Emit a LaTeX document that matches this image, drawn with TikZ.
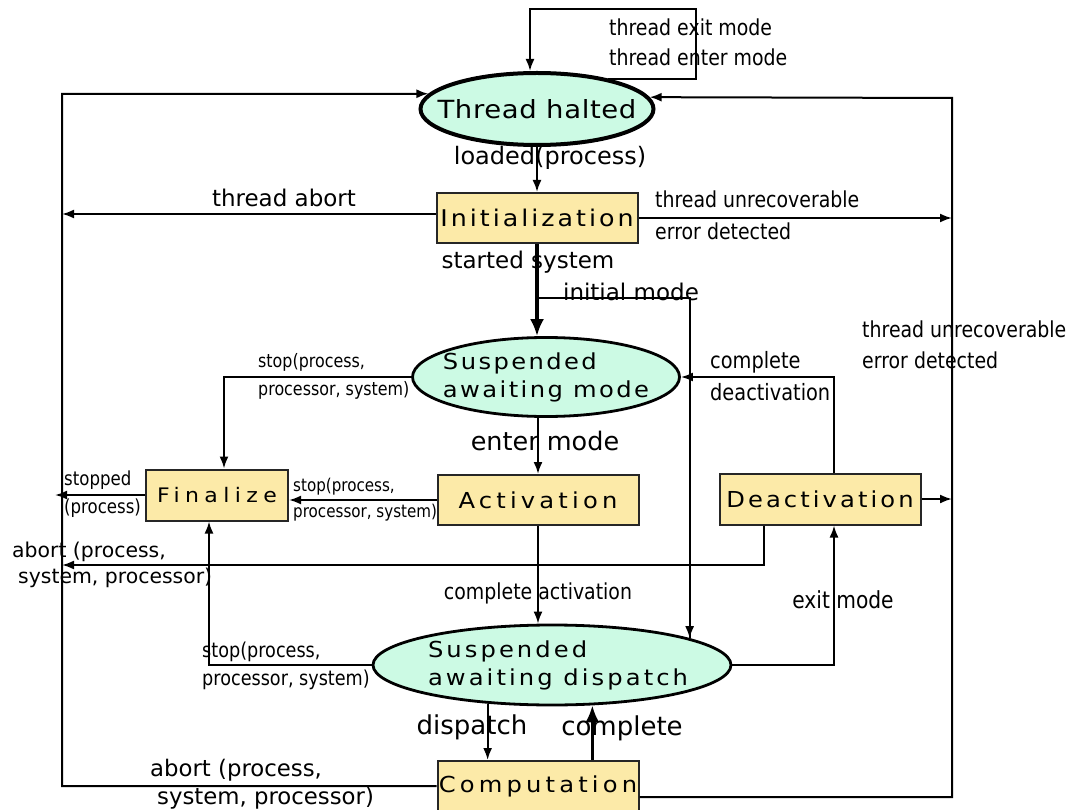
\documentclass[tikz,border=0pt]{standalone}
\usepackage{fontspec}
\usepackage{tikz}
\usetikzlibrary{shapes.geometric,arrows.meta}
\setmainfont{DejaVu Sans}
\newfontfamily\condfont[FakeStretch=0.86]{DejaVu Sans}
\newfontfamily\statefont[FakeStretch=1.1]{DejaVu Sans}
\newcommand\spaced[1]{\addfontfeature{LetterSpace=#1}}
\definecolor{mint}{RGB}{204,250,228}
\definecolor{sand}{RGB}{252,234,168}

\tikzset{
  stateoval/.style={ellipse, draw, line width=2.8pt, fill=mint, inner sep=0pt},
  statebox/.style={rectangle, draw=black!85, line width=2pt, fill=sand, inner sep=0pt,
    minimum width=201pt, minimum height=50pt, font=\statefont\fontsize{22}{26}\selectfont},
  statetext/.style={font=\statefont\fontsize{22}{28}\selectfont\spaced{#1}, align=left, inner sep=0pt},
  lbl/.style={font=\fontsize{23}{30}\selectfont, inner sep=0pt, align=left},
  cond/.style={font=\condfont\fontsize{22}{30}\selectfont, inner sep=0pt, align=left},
  flow/.style={line width=2pt, -{Latex[length=12pt,width=9pt]}},
  heavy/.style={line width=3.2pt, -{Latex[length=17pt,width=14pt]}},
}

\begin{document}
\begin{tikzpicture}[x=1pt,y=-1pt]
            \useasboundingbox (0,0) rectangle (1068,810);

            % states
            \node[stateoval, line width=4pt, minimum width=233pt, minimum height=72pt] (halt) at (537,109) {};
            \node[statetext=0, font=\statefont\fontsize{25}{28}\selectfont\spaced{2.5}] (haltlbl) at (halt) {Thread halted};
            \node[statebox, font=\statefont\fontsize{23}{26}\selectfont] (init) at (537,218) {\spaced{13}Initialization};
            \node[stateoval, minimum width=267pt, minimum height=79pt] (sam) at (546,377) {};
            \node[statetext=11] (samlbl) at (sam) {Suspended\\awaiting mode};
            \node[statebox, minimum width=142pt, minimum height=51pt, font=\statefont\fontsize{20}{24}\selectfont] (fin) at (217,495) {\spaced{27}Finalize};
            \node[statebox] (act) at (538,500) {\spaced{19}Activation};
            \node[statebox, minimum height=51pt] (deact) at (820,499) {\spaced{14}Deactivation};
            \node[stateoval, minimum width=358pt, minimum height=80pt] (sad) at (552,665) {};
            \node[statetext=14] (sadlbl) at ([xshift=6pt]sad) {Suspended\\awaiting dispatch};
            \node[statebox] (comp) at (538,786) {\spaced{19}Computation};

            \coordinate (loopNE) at (696,9);
            \coordinate (leftTop) at (62,94);
            \coordinate (rightTop) at (952,98);
            \coordinate (stopEnd) at (55,498);
            \coordinate (abortEnd) at (62,565);
            \coordinate (initBranch) at (537,298);

            % transitions
            \draw[flow] (halt.23) -| (loopNE) -| ([xshift=-7pt]halt.north);
            \draw[flow] (halt.south) -- (init.north);
            \draw[flow] ([yshift=4pt]init.west) -- ([yshift=4pt]init.west -| leftTop);
            \draw[flow] (init.east) -- (init.east -| rightTop);
            \draw[heavy] (init.south) -- (init.south |- sam.north);
            \draw[line width=2pt] (initBranch) -| (sad.11);
            \draw[flow] (sad.11 |- initBranch) -- (sad.11);
            \draw[flow] ([yshift=-11pt]comp.east) -| (rightTop) -- (halt.6);
            \draw[flow] (comp.west) -| (leftTop) -- (halt.172);
            \draw[flow] (sam.west) -| ([xshift=7pt]fin.north);
            \draw[flow] (act.west) -- (fin.east |- act.west);
            \draw[flow] (fin.west) -- (fin.west -| stopEnd);
            \draw[flow] (act.north |- sam.south) -- (act.north);
            \draw[flow] (act.south) -- (act.south |- sad.north);
            \draw[flow] ([xshift=-56pt]deact.south) |- (abortEnd);
            \draw[flow] ([xshift=14pt]deact.north) |- (sam.east);
            \draw[flow] (deact.east) -- (deact.east -| rightTop);
            \draw[flow] (sad.east) -| ([xshift=14pt]deact.south);
            \draw[flow] (sad.west) -| ([xshift=-8pt]fin.south);
            \draw[flow] (sad.211.6) -- (sad.211.6 |- comp.north);
            \draw[heavy] (comp.north -| sad.315.7) -- (sad.315.7);

            % labels
            \node[cond, anchor=west] (lblLoop) at (609,42) {thread exit mode\\thread enter mode};
            \node[lbl, font=\fontsize{24}{30}\selectfont] (lblLoaded) at (550,158) {loaded(process)};
            \node[lbl] (lblAbortTop) at (284,198) {thread abort};
            \node[cond, anchor=west, font=\condfont\fontsize{22}{32}\selectfont] (lblErrA) at (655,215) {thread unrecoverable\\error detected};
            \node[lbl] (lblStarted) at (528,262) {started system};
            \node[lbl] (lblInitial) at (631,292) {initial mode};
            \node[cond, anchor=west, font=\condfont\fontsize{22}{31}\selectfont] (lblErrB) at (862,345) {thread unrecoverable\\error detected};
            \node[cond, anchor=west, font=\condfont\fontsize{18.5}{28}\selectfont] (lblStopA) at (258,376) {stop(process,\\processor, system)};
            \node[cond, anchor=west, font=\condfont\fontsize{22.5}{32}\selectfont] (lblCompDeact) at (710,376) {complete\\deactivation};
            \node[lbl, font=\fontsize{25.5}{30}\selectfont] (lblEnter) at (545,441) {enter mode};
            \node[cond, anchor=west, font=\condfont\fontsize{19.3}{28}\selectfont] (lblStopped) at (64,494) {stopped\\(process)};
            \node[cond, anchor=west, font=\condfont\fontsize{17.6}{26}\selectfont] (lblStopB) at (293,500) {stop(process,\\processor, system)};
            \node[lbl, anchor=west, font=\fontsize{20.4}{26}\selectfont] (lblAbortMid) at (12,565) {abort (process,\\\hspace{6pt}system, processor)};
            \node[cond] (lblCompAct) at (538,593) {complete activation};
            \node[cond, font=\condfont\fontsize{23.5}{30}\selectfont] (lblExit) at (843,600) {exit mode};
            \node[cond, anchor=west, font=\condfont\fontsize{20.5}{28}\selectfont] (lblStopC) at (202,666) {stop(process,\\processor, system)};
            \node[lbl, font=\fontsize{26}{30}\selectfont] (lblDispatch) at (472,727) {dispatch};
            \node[lbl, font=\fontsize{26}{30}\selectfont] (lblComplete) at (622,728) {complete};
            \node[lbl, anchor=west, font=\fontsize{22.8}{28}\selectfont] (lblAbortBot) at (150,784) {abort (process,\\\hspace{7pt}system, processor)};
        \end{tikzpicture}
\end{document}
